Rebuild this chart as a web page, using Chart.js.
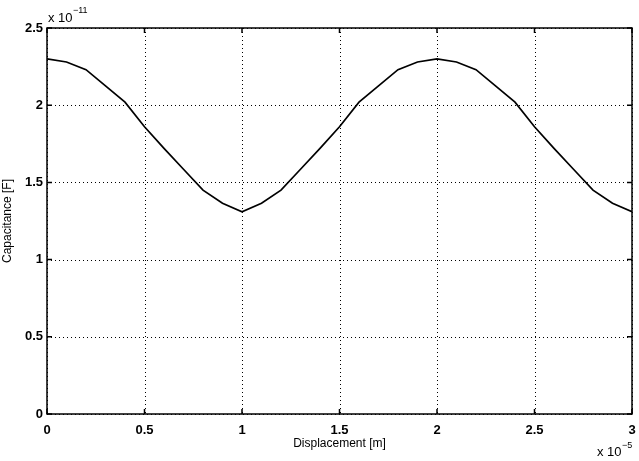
<!DOCTYPE html>
<html>
<head>
<meta charset="utf-8">
<script src="https://cdn.jsdelivr.net/npm/chart.js@4"></script>
<style>
  html, body { margin: 0; padding: 0; background: #fff; }
  #wrap { width: 639px; height: 461px; }
</style>
</head>
<body>
<div id="wrap"><canvas id="cap-chart" width="639" height="461"></canvas></div>
<script>
// Displacement in units of 1e-5 m
const displacement = [0, 0.1, 0.2, 0.3, 0.4, 0.5, 0.6, 0.7, 0.8, 0.9, 1.0,
  1.1, 1.2, 1.3, 1.4, 1.5, 1.6, 1.7, 1.8, 1.9, 2.0,
  2.1, 2.2, 2.3, 2.4, 2.5, 2.6, 2.7, 2.8, 2.9, 3.0];
// Capacitance in units of 1e-11 F
const capacitance = [2.30, 2.28, 2.23, 2.125, 2.02, 1.86, 1.72, 1.585, 1.45, 1.365, 1.31,
  1.365, 1.45, 1.585, 1.72, 1.86, 2.02, 2.125, 2.23, 2.28, 2.30,
  2.28, 2.23, 2.125, 2.02, 1.86, 1.72, 1.585, 1.45, 1.365, 1.31];
const xTicks = [0, 0.5, 1, 1.5, 2, 2.5, 3];
const xTickLabels = ['0', '0.5', '1', '1.5', '2', '2.5', '3'];
const yTicks = [0, 0.5, 1, 1.5, 2, 2.5];
const yTickLabels = ['0', '0.5', '1', '1.5', '2', '2.5'];

const FONT = '"Liberation Sans", Arial, Helvetica, sans-serif';

// Frame, dotted grid, inward ticks and exponent labels (MATLAB look)
const matlabAxes = {
  id: 'matlabAxes',
  beforeDatasetsDraw(chart) {
    const { ctx, chartArea: a, scales: { x, y } } = chart;
    ctx.save();
    ctx.strokeStyle = '#000';
    ctx.lineWidth = 1;
    ctx.setLineDash([1, 3]);
    xTicks.forEach(v => {
      const px = Math.round(x.getPixelForValue(v)) + 0.5;
      ctx.beginPath(); ctx.moveTo(px, a.top); ctx.lineTo(px, a.bottom); ctx.stroke();
    });
    yTicks.forEach(v => {
      const py = Math.round(y.getPixelForValue(v)) + 0.5;
      ctx.beginPath(); ctx.moveTo(a.left, py); ctx.lineTo(a.right, py); ctx.stroke();
    });
    ctx.restore();
  },
  afterDraw(chart) {
    const { ctx, chartArea: a, scales: { x, y } } = chart;
    ctx.save();
    ctx.strokeStyle = '#000';
    ctx.lineWidth = 1.5;
    ctx.strokeRect(a.left, a.top, a.right - a.left, a.bottom - a.top);
    const t = 5;
    xTicks.forEach(v => {
      const px = x.getPixelForValue(v);
      ctx.beginPath();
      ctx.moveTo(px, a.bottom); ctx.lineTo(px, a.bottom - t);
      ctx.moveTo(px, a.top); ctx.lineTo(px, a.top + t);
      ctx.stroke();
    });
    yTicks.forEach(v => {
      const py = y.getPixelForValue(v);
      ctx.beginPath();
      ctx.moveTo(a.left, py); ctx.lineTo(a.left + t, py);
      ctx.moveTo(a.right, py); ctx.lineTo(a.right - t, py);
      ctx.stroke();
    });

    // exponent labels
    ctx.fillStyle = '#000';
    ctx.textBaseline = 'alphabetic';
    ctx.textAlign = 'left';
    ctx.font = '13px ' + FONT;
    ctx.fillText('x 10', 48, 22);
    ctx.font = '9px ' + FONT;
    ctx.fillText('\u221211', 73, 13);
    ctx.font = '13px ' + FONT;
    ctx.fillText('x 10', 597, 456);
    ctx.font = '9px ' + FONT;
    ctx.fillText('\u22125', 622, 448);
    ctx.restore();
  }
};

const ctx = document.getElementById('cap-chart').getContext('2d');
new Chart(ctx, {
  type: 'line',
  data: {
    datasets: [{
      data: displacement.map((d, i) => ({ x: d, y: capacitance[i] })),
      borderColor: '#000',
      borderWidth: 1.7,
      pointRadius: 0,
      tension: 0,
      fill: false
    }]
  },
  options: {
    responsive: false,
    animation: false,
    devicePixelRatio: 1,
    layout: { padding: { left: 0, right: 7, top: 28, bottom: 0 } },
    plugins: { legend: { display: false }, tooltip: { enabled: false } },
    scales: {
      x: {
        type: 'linear',
        min: 0, max: 3,
        afterBuildTicks: s => { s.ticks = xTicks.map(v => ({ value: v })); },
        afterFit: s => { s.height = 47; s.paddingLeft = 0; s.paddingRight = 0; },
        grid: { display: false, drawTicks: false },
        border: { display: false },
        ticks: {
          color: '#000', padding: 9, maxRotation: 0,
          font: { family: FONT, size: 13, weight: 'bold' },
          callback: (v, i) => xTickLabels[i]
        },
        title: { display: true, text: 'Displacement [m]', color: '#000', padding: { top: 2, bottom: 10 },
          font: { family: FONT, size: 12 } }
      },
      y: {
        type: 'linear',
        min: 0, max: 2.5,
        afterBuildTicks: s => { s.ticks = yTicks.map(v => ({ value: v })); },
        afterFit: s => { s.width = 47; s.paddingTop = 0; s.paddingBottom = 0; },
        grid: { display: false, drawTicks: false },
        border: { display: false },
        ticks: {
          color: '#000', padding: 4,
          font: { family: FONT, size: 13, weight: 'bold' },
          callback: (v, i) => yTickLabels[i]
        },
        title: { display: true, text: 'Capacitance [F]', color: '#000', padding: { top: 0, bottom: 2 },
          font: { family: FONT, size: 12 } }
      }
    }
  },
  plugins: [matlabAxes]
});
</script>
</body>
</html>
